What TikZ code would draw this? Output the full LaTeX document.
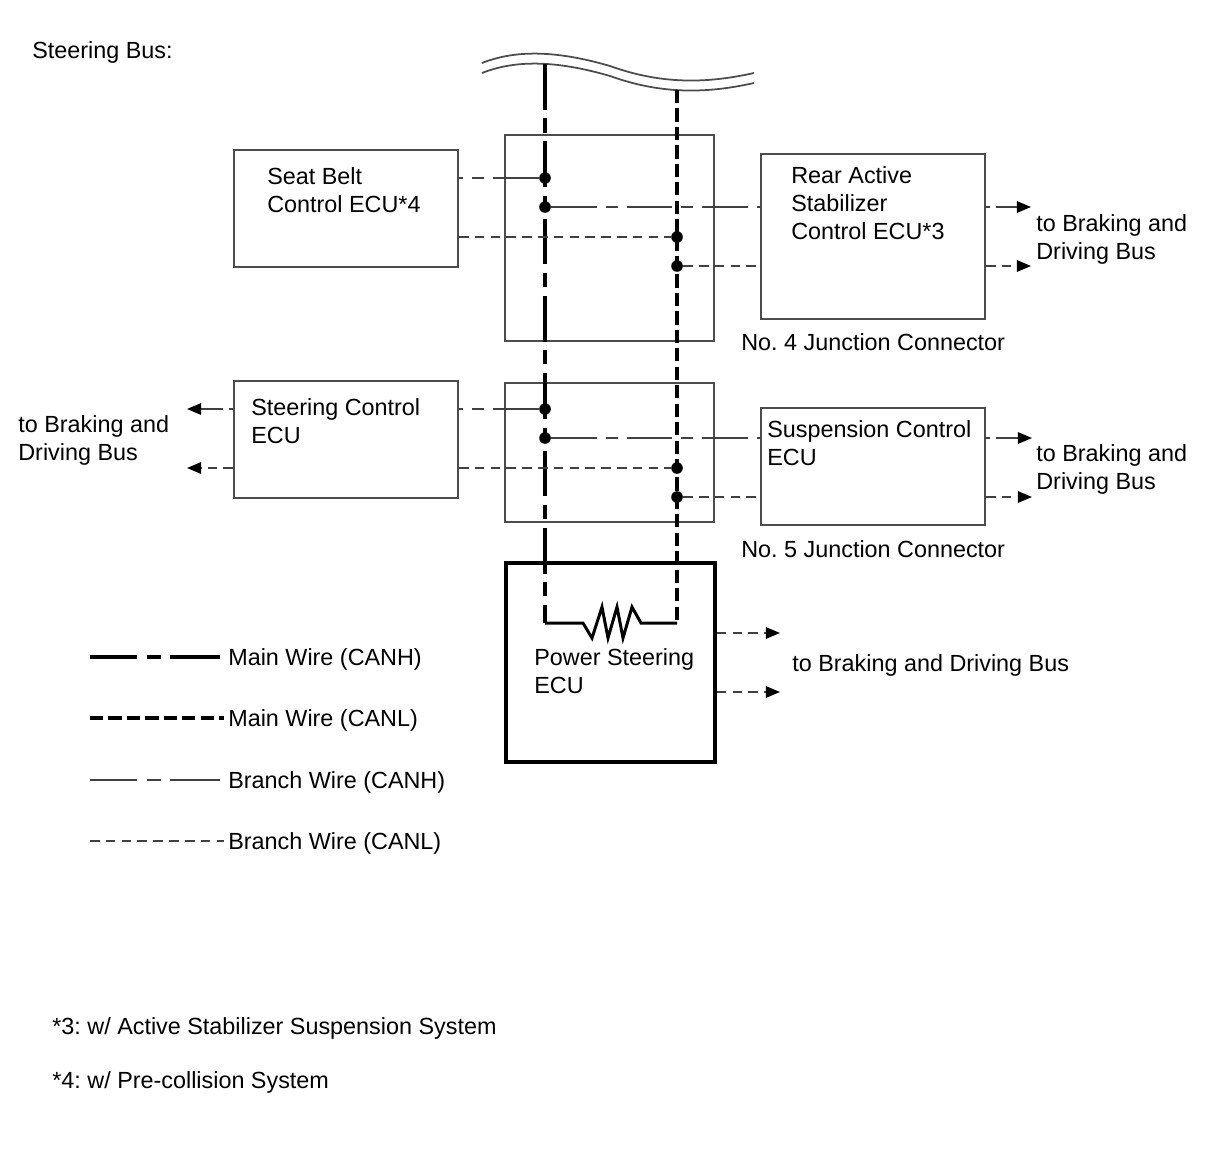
\documentclass[tikz,border=0pt]{standalone}
\usepackage{fontspec}
\setmainfont{Liberation Sans}
\frenchspacing
\usetikzlibrary{arrows.meta,fit,positioning}
\tikzset{ecu/.style={draw=black!70, line width=1pt, inner sep=0pt},
  psecu/.style={draw=black, line width=2pt, inner sep=0pt},
  lbl/.style={anchor=base west, inner sep=0pt, align=left, font=\fontsize{13.3pt}{15.9pt}\selectfont},
  joint/.style={circle, fill=black, inner sep=0pt, minimum size=6.6pt},
  wave/.style={draw=black!70, line width=1pt},
  mainH/.style={line width=1.9pt, dash pattern=on 26pt off 5pt on 8pt off 5pt},
  mainL/.style={line width=1.9pt, dash pattern=on 7.5pt off 3pt},
  brH/.style={draw=black!75, line width=0.9pt, dash pattern=on 26pt off 5pt on 7pt off 5pt},
  brL/.style={draw=black!75, line width=0.9pt, dash pattern=on 5.5pt off 3.5pt},
  outH/.style={draw=black!75, line width=0.9pt, dash pattern=on 2.5pt off 3.5pt on 40pt off 4pt},
  keyH/.style={dash pattern=on 26.5pt off 6pt on 8pt off 5pt on 40pt off 1pt},
  tip/.style={-{Triangle[length=8pt,width=6.5pt,black]}}}

\begin{document}
\begin{tikzpicture}[x=0.02cm,y=-0.02cm]
\useasboundingbox (0,0) rectangle (1210,1156);
\node[lbl] (title) at (32,58) {Steering Bus:};

% wavy break at the top of the bus
\draw[wave] (482,63) .. controls (515,50) and (555,50) .. (610,66) .. controls (660,84) and (705,84) .. (754,73);
\draw[wave] (482,73) .. controls (515,60) and (555,60) .. (610,76) .. controls (660,94) and (705,94) .. (754,83);
\coordinate (hTop) at (545,64);
\coordinate (lTop) at (677,90);
\coordinate (hBot) at (545,623);
\coordinate (lBot) at (677,623);

% junction connectors and ECUs
\node[ecu, fit={(505,135) (714,341)}] (jc4) {};
\node[ecu, fit={(505,383) (714,522)}] (jc5) {};
\node[ecu, fit={(234,150) (458,267)}] (belt) {};
\node[ecu, fit={(761,154) (985,319)}] (rear) {};
\node[ecu, fit={(234,381) (458,498)}] (steer) {};
\node[ecu, fit={(761,408) (985,525)}] (susp) {};
\node[psecu, fit={(506,563) (715,762)}] (ps) {};

% (base of a two-line label is its last line)
\node[lbl] (beltlbl) at (267,212) {Seat Belt\\Control ECU*4};
\node[lbl] (rearlbl) at (791,239) {Rear Active\\Stabilizer\\Control ECU*3};
\node[lbl] (steerlbl) at (251,443) {Steering Control\\ECU};
\node[lbl] (susplbl) at (767,465) {Suspension Control\\ECU};
\node[lbl] (pslbl) at (534,693) {Power Steering\\ECU};
\node[lbl] (jc4lbl) at (741,350) {No. 4 Junction Connector};
\node[lbl] (jc5lbl) at (741,557) {No. 5 Junction Connector};

% main wires
\draw[mainH] (hTop) -- (hBot);
\draw[mainL] (lTop) -- (lBot);
\draw[line width=1.7pt] (hBot) -- ++(38,0) -- ++(9,15) -- ++(10,-31) -- ++(6,31) -- ++(9,-31) -- ++(6,31) -- ++(9,-31) -- ++(9,16) -- (lBot);

% joints
\node[joint] (h1) at (545,178) {};
\node[joint] (h2) at (545,207) {};
\node[joint] (l1) at (677,237) {};
\node[joint] (l2) at (677,266) {};
\node[joint] (h3) at (545,409) {};
\node[joint] (h4) at (545,438) {};
\node[joint] (l3) at (677,468) {};
\node[joint] (l4) at (677,497) {};

% branch wires
\draw[brH] (h1) -- (belt.east |- h1);
\draw[brH] (h2) -- (rear.west |- h2);
\draw[brL] (belt.east |- l1) -- (l1);
\draw[brL] (l2) -- (rear.west |- l2);
\draw[brH] (h3) -- (steer.east |- h3);
\draw[brH] (h4) -- (susp.west |- h4);
\draw[brL] (steer.east |- l3) -- (l3);
\draw[brL] (l4) -- (susp.west |- l4);

% to braking and driving bus
\coordinate (o1) at (1031,207);
\coordinate (o2) at (1031,266);
\coordinate (o3) at (1032,438);
\coordinate (o4) at (1032,497);
\coordinate (o5) at (187,409);
\coordinate (o6) at (187,468);
\coordinate (o7) at (780,633);
\coordinate (o8) at (780,692);
\draw[outH,tip] (rear.east |- o1) -- (o1);
\draw[brL,tip] (rear.east |- o2) -- (o2);
\draw[outH,tip] (susp.east |- o3) -- (o3);
\draw[brL,tip] (susp.east |- o4) -- (o4);
\draw[outH,tip] (steer.west |- o5) -- (o5);
\draw[brL,tip] (steer.west |- o6) -- (o6);
\draw[brL,tip] (ps.east |- o7) -- (o7);
\draw[brL,tip] (ps.east |- o8) -- (o8);
\node[lbl] (bus1) at (1036,259) {to Braking and\\Driving Bus};
\node[lbl] (bus2) at (1036,489) {to Braking and\\Driving Bus};
\node[lbl] (bus3) at (18,460) {to Braking and\\Driving Bus};
\node[lbl] (bus4) at (792,671) {to Braking and Driving Bus};

% legend
\node[lbl] (lg1) at (228,665) {Main Wire (CANH)};
\node[lbl] (lg2) at (228,726) {Main Wire (CANL)};
\node[lbl] (lg3) at (228,788) {Branch Wire (CANH)};
\node[lbl] (lg4) at (228,849) {Branch Wire (CANL)};
\coordinate (ls1) at (90,657);
\coordinate (ls2) at (90,718);
\coordinate (ls3) at (90,780);
\coordinate (ls4) at (90,841);
\draw[mainH,keyH,shorten >=4.5pt] (ls1) -- (ls1 -| lg1.west);
\draw[mainL,shorten >=2pt] (ls2) -- (ls2 -| lg2.west);
\draw[brH,keyH,shorten >=4.5pt] (ls3) -- (ls3 -| lg3.west);
\draw[brL,shorten >=2pt] (ls4) -- (ls4 -| lg4.west);

\node[lbl] (note3) at (52,1034) {*3: w/ Active Stabilizer Suspension System};
\node[lbl] (note4) at (52,1088) {*4: w/ Pre-collision System};
\end{tikzpicture}
\end{document}
